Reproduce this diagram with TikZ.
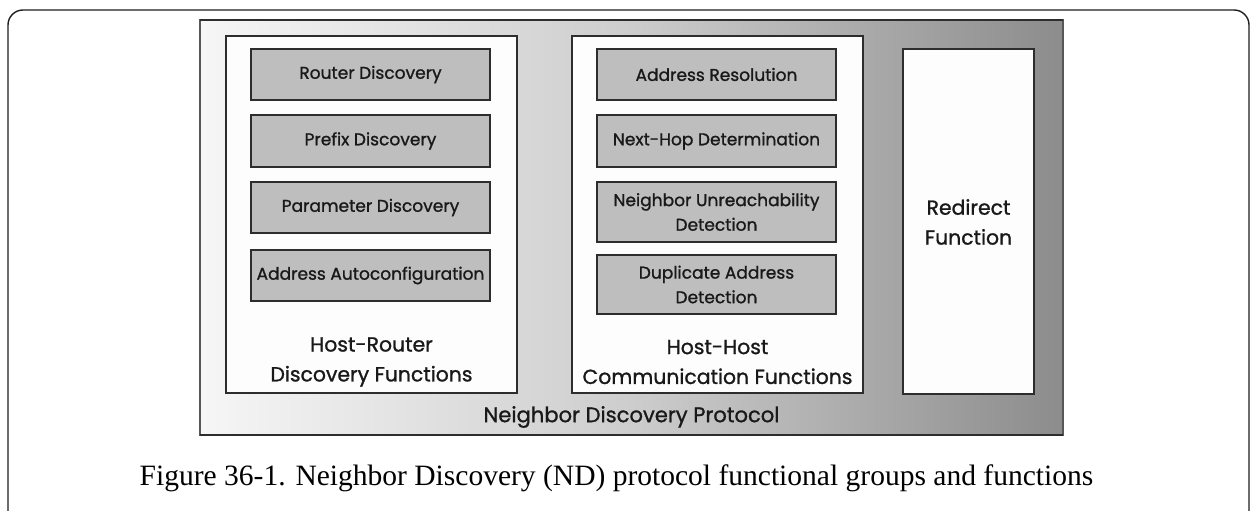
\documentclass[tikz,border=0pt]{standalone}
\usepackage{fontspec}
\setmainfont{Liberation Serif}
\newfontfamily\ndsans[FakeBold=1.1]{Poppins}
\definecolor{ndFrame}{RGB}{30,30,30}
\definecolor{ndBorder}{RGB}{45,45,45}
\definecolor{ndFunction}{RGB}{190,190,190}
\definecolor{ndGroup}{RGB}{253,253,253}
\definecolor{ndShadeLeft}{RGB}{246,246,246}
\definecolor{ndShadeMid}{RGB}{205,205,205}
\definecolor{ndShadeRight}{RGB}{140,140,140}
\definecolor{ndText}{RGB}{25,25,25}

\begin{document}
\begin{tikzpicture}[x=1cm,y=1cm,
      function/.style={draw=ndBorder, fill=ndFunction, line width=1.4pt,
        minimum width=4.78cm, minimum height=1.03cm, inner sep=0pt,
        align=center, text=ndText,
        font=\fontsize{9.7}{14}\selectfont\ndsans},
      group/.style={draw=ndBorder, fill=ndGroup, line width=1.3pt},
      label/.style={text=ndText, align=center,
        font=\fontsize{11.6}{17}\selectfont\ndsans},
      caption/.style={text=black, font=\fontsize{16.8}{19}\selectfont}]
      \useasboundingbox (0,0) rectangle (25,10.22);
      \fill[white] (0,0) rectangle (25,10.22);
      \begin{scope}
        \clip (0,0) rectangle (25,10.22);
        \draw[ndFrame, line width=.8pt, rounded corners=.3cm]
          (.16,-1) rectangle (24.98,10.02);
      \end{scope}

      % protocol background
      \shade[left color=ndShadeLeft, right color=ndShadeRight,
        middle color=ndShadeMid] (4.00,1.52) rectangle (21.26,9.82);
      \draw[ndBorder!80, line width=.7pt] (4.00,1.52) rectangle (21.26,9.82);
      \draw[ndBorder, line width=1.6pt] (4.00,9.82) -- (21.26,9.82);
      \draw[ndBorder, line width=1.4pt] (4.00,1.52) -- (21.26,1.52);

      % functional groups
      \path[group] (4.52,2.36) rectangle (10.34,9.50);
      \path[group] (11.44,2.36) rectangle (17.26,9.50);
      \node[group, minimum width=2.62cm, minimum height=6.90cm,
        inner sep=0pt] (redirect) at (19.37,5.79) {};
      \node[label] (redirectText) at (19.37,5.78) {Redirect\\Function};

      \node[function] (router) at (7.41,8.73) {Router Discovery};
      \node[function] (prefix) at (7.41,7.40) {Prefix Discovery};
      \node[function] (parameter) at (7.41,6.07) {Parameter Discovery};
      \node[function] (autoconf) at (7.41,4.71) {Address Autoconfiguration};
      \node[label] (hostRouter) at (7.43,2.98)
        {Host-Router\\Discovery Functions};

      \node[function] (resolution) at (14.33,8.73) {Address Resolution};
      \node[function] (nextHop) at (14.33,7.40) {Next-Hop Determination};
      \node[function, minimum height=1.20cm] (unreach) at (14.33,5.98)
        {Neighbor Unreachability\\Detection};
      \node[function, minimum height=1.18cm] (duplicate) at (14.33,4.53)
        {Duplicate Address\\Detection};
      \node[label] (hostHost) at (14.35,2.98)
        {Host-Host\\Communication Functions};

      \node[label, font=\fontsize{12}{17}\selectfont\ndsans] (protocol)
        at (12.63,1.88) {Neighbor Discovery Protocol};

      \node[caption] (figCaption) at (12.33,.66)
        {Figure 36-1. Neighbor Discovery (ND) protocol functional groups and functions};
    \end{tikzpicture}
\end{document}
